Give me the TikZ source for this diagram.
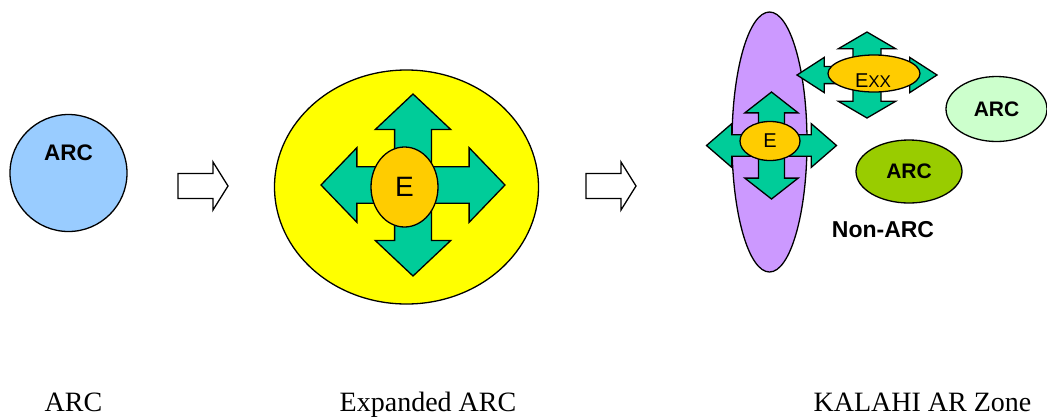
\documentclass[tikz,border=0pt]{standalone}
\usepackage{fontspec}
\setmainfont{Liberation Sans}
\newfontfamily\serifcap{Liberation Serif}
\usetikzlibrary{shapes.geometric}
\definecolor{arcblue}{HTML}{99CCFF}
\definecolor{expyellow}{HTML}{FFFF00}
\definecolor{teal4}{HTML}{00CC99}
\definecolor{eorange}{HTML}{FFCC00}
\definecolor{zonepurple}{HTML}{CC99FF}
\definecolor{palegreen}{HTML}{CCFFCC}
\definecolor{olivegreen}{HTML}{99CC00}
\tikzset{
  outl/.style={draw=black, line width=1.3pt},
  blob/.style={ellipse, outl, inner sep=0pt},
  arcb/.style={font=\fontsize{22.5}{24}\selectfont\bfseries},
  capt/.style={font=\serifcap\fontsize{28}{32}\selectfont},
  quadarrow/.pic={
    \draw[outl, fill=teal4, line join=miter]
      (1,0) -- (0.61,0.41) -- (0.61,0.2) -- (0.2,0.2) -- (0.2,0.61) -- (0.41,0.61) -- (0,1)
      -- (-0.41,0.61) -- (-0.2,0.61) -- (-0.2,0.2) -- (-0.61,0.2) -- (-0.61,0.41) -- (-1,0)
      -- (-0.61,-0.41) -- (-0.61,-0.2) -- (-0.2,-0.2) -- (-0.2,-0.61) -- (-0.41,-0.61) -- (0,-1)
      -- (0.41,-0.61) -- (0.2,-0.61) -- (0.2,-0.2) -- (0.61,-0.2) -- (0.61,-0.41) -- cycle;
  },
  blockarrow/.pic={
    \draw[outl, fill=white, line join=miter]
      (0,-12.5) -- (35,-12.5) -- (35,-24) -- (50,0) -- (35,24) -- (35,12.5) -- (0,12.5) -- cycle;
  }
}
\begin{document}
\begin{tikzpicture}[x=1pt,y=-1pt]
\useasboundingbox (0,0) rectangle (1047,416);

% ARC
\node[blob, circle, fill=arcblue, minimum size=117pt] (arc1) at (68.5,173) {};
\node[arcb] (arc1t) at (68.5,153) {ARC};

% block arrows
\pic at (178,186) {blockarrow};
\pic at (586,186) {blockarrow};

% Expanded ARC
\node[blob, fill=expyellow, minimum width=264pt, minimum height=234pt] (exp) at (406.5,187) {};
\pic[xscale=92, yscale=91] at (413,185) {quadarrow};
\node[blob, fill=eorange, minimum width=67pt, minimum height=80pt,
      font=\fontsize{28}{30}\selectfont] (ebig) at (404.5,187) {E};

% KALAHI AR Zone
\node[blob, fill=zonepurple, minimum width=75pt, minimum height=260pt] (zone) at (769.5,142) {};
\pic[xscale=65, yscale=53.5] at (771.5,145.5) {quadarrow};
\node[blob, fill=eorange, minimum width=60pt, minimum height=39pt,
      font=\fontsize{20}{22}\selectfont] (esmall) at (770,141) {E};
\pic[xscale=70, yscale=43] at (867,75) {quadarrow};
\node[blob, fill=eorange, minimum width=92pt, minimum height=37pt] (exx) at (874,73.5) {};
\node[font=\fontsize{20}{22}\selectfont, inner sep=0pt] (exxt) at (873,81) {E{\fontsize{17}{18}\selectfont XX}};

\node[blob, fill=palegreen, minimum width=101pt, minimum height=65pt,
      font=\fontsize{21}{22}\selectfont\bfseries] (arc2) at (996.5,109) {ARC};
\node[blob, fill=olivegreen, minimum width=106pt, minimum height=63pt,
      font=\fontsize{21}{22}\selectfont\bfseries] (arc3) at (909,171.5) {ARC};
\node[font=\fontsize{23}{24}\selectfont\bfseries] (nonarc) at (883,230) {Non-ARC};

% captions
\node[capt, anchor=base] (c1) at (73.5,411) {ARC};
\node[capt, anchor=base] (c2) at (428,411) {Expanded ARC};
\node[capt, anchor=base] (c3) at (922.5,411) {KALAHI AR Zone};
\end{tikzpicture}
\end{document}
